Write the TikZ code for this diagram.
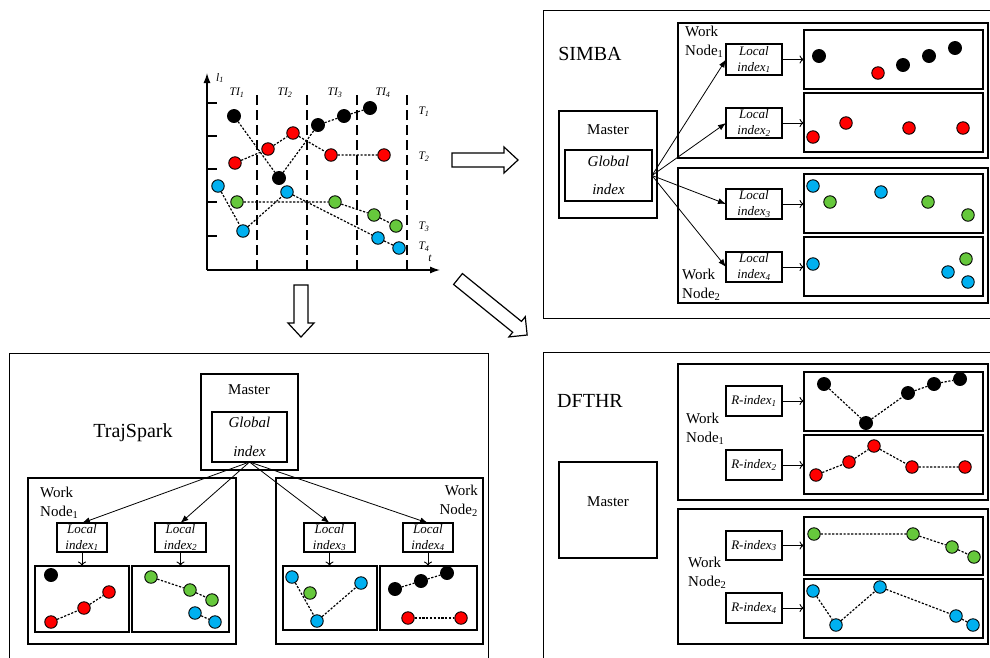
\documentclass[tikz,border=0pt]{standalone}
\usepackage{fontspec}
\setmainfont{Liberation Serif}
\usetikzlibrary{arrows.meta}

\definecolor{ptred}{RGB}{255,0,0}
\definecolor{ptgreen}{RGB}{102,200,60}
\definecolor{ptblue}{RGB}{0,176,240}

\pgfdeclarelayer{paper}
\pgfdeclarelayer{bg}
\pgfsetlayers{paper,bg,main}

\tikzset{
  spanbox/.style n args={4}{minimum width={(#3)-(#1)}, minimum height={(#4)-(#2)},
    at={({((#1)+(#3))/2},{((#2)+(#4))/2})}, inner sep=0, outer sep=0},
  panel/.style={draw, line width=1pt},
  hostbox/.style={draw, line width=1.4pt},
  idxbox/.style={draw, line width=1.4pt, align=center,
    font=\fontsize{13}{16}\selectfont\itshape},
  gidxbox/.style={draw, line width=1.4pt, align=center,
    font=\fontsize{15}{18}\selectfont\itshape},
  databox/.style={draw, line width=1.6pt},
  paneltitle/.style={font=\fontsize{20}{24}\selectfont, inner sep=0},
  hostlabel/.style={font=\fontsize{15}{18}\selectfont, inner sep=0},
  worklabel/.style={font=\fontsize{15}{19}\selectfont, inner sep=0},
  chartlabel/.style={font=\fontsize{11.5}{13}\selectfont\itshape, inner sep=0},
  dotnode/.style={circle, draw, line width=0.9pt, minimum size=12.5pt, inner sep=0},
  ptK/.style={dotnode, fill=black, minimum size=13pt},
  ptR/.style={dotnode, fill=ptred},
  ptG/.style={dotnode, fill=ptgreen},
  ptB/.style={dotnode, fill=ptblue},
  traj/.style={dash pattern=on 2.2pt off 1.6pt, line width=1.2pt},
  feed/.style={-{Latex[length=8pt,width=6pt]}, line width=0.8pt},
  probe/.style={-{To[length=4.5pt,width=8pt]}, line width=0.9pt},
  axis/.style={-{Latex[length=10pt,width=7pt]}, line width=1.3pt},
  slot/.style={dash pattern=on 10pt off 5pt, line width=1.3pt},
  blockarrow/.style={draw, line width=1.2pt, fill=white, line join=miter},
}

\begin{document}
\begin{tikzpicture}[x=1pt, y=-1pt]
\useasboundingbox (0,0) rectangle (990,657);
\begin{pgfonlayer}{paper}
\fill[white] (0,0) rectangle (990,657);
\end{pgfonlayer}
\clip (0,0) rectangle (990,657);

% ---------------- trajectory chart ----------------
\coordinate (origin) at (207,270);
\coordinate (ytop) at (207,73);
\coordinate (xend) at (440,270);
\foreach \x in {257,307,357,407} \draw[slot] (\x,270) -- (\x,91);
\foreach \y in {103,136,169,202,236} \draw[line width=1.2pt] (207,\y) -- (217,\y);
\draw[axis] (origin) -- (ytop);
\draw[axis] (origin) -- (xend);
\node[chartlabel] (lax) at (220,78) {l\textsubscript{1}};
\node[chartlabel] (tax) at (430,258) {t};
\node[chartlabel] (ti1) at (237,93) {TI\textsubscript{1}};
\node[chartlabel] (ti2) at (285,93) {TI\textsubscript{2}};
\node[chartlabel] (ti3) at (335,93) {TI\textsubscript{3}};
\node[chartlabel] (ti4) at (383,93) {TI\textsubscript{4}};
\node[chartlabel] (lt1) at (424,112) {T\textsubscript{1}};
\node[chartlabel] (lt2) at (424,157) {T\textsubscript{2}};
\node[chartlabel] (lt3) at (424,227) {T\textsubscript{3}};
\node[chartlabel] (lt4) at (424,247) {T\textsubscript{4}};

\node[ptK] (ck1) at (234,116) {};
\node[ptK] (ck2) at (279,178) {};
\node[ptK] (ck3) at (318,125) {};
\node[ptK] (ck4) at (344,116) {};
\node[ptK] (ck5) at (370,108) {};
\node[ptR] (cr1) at (235,163) {};
\node[ptR] (cr2) at (268,149) {};
\node[ptR] (cr3) at (293,133) {};
\node[ptR] (cr4) at (331,155) {};
\node[ptR] (cr5) at (384,155) {};
\node[ptG] (cg1) at (237,202) {};
\node[ptG] (cg2) at (335,202) {};
\node[ptG] (cg3) at (374,215) {};
\node[ptG] (cg4) at (396,226) {};
\node[ptB] (cb1) at (218,186) {};
\node[ptB] (cb2) at (243,231) {};
\node[ptB] (cb3) at (287,192) {};
\node[ptB] (cb4) at (378,238) {};
\node[ptB] (cb5) at (399,248) {};
\begin{pgfonlayer}{bg}
\draw[traj] (ck1) -- (ck2) -- (ck3) -- (ck4) -- (ck5);
\draw[traj] (cr1) -- (cr2) -- (cr3) -- (cr4) -- (cr5);
\draw[traj] (cg1) -- (cg2) -- (cg3) -- (cg4);
\draw[traj] (cb1) -- (cb2) -- (cb3) -- (cb4) -- (cb5);
\end{pgfonlayer}

% ---------------- block arrows ----------------
\draw[blockarrow] (452,153) -- (504,153) -- (504,147) -- (518,160) -- (504,173)
  -- (504,167) -- (452,167) -- cycle;
\draw[blockarrow] (294,285) -- (308,285) -- (308,323) -- (314,323) -- (301,337)
  -- (288,323) -- (294,323) -- cycle;
\begin{scope}[shift={(458,279)}, rotate=-39]
\draw[blockarrow] (0,-7) -- (76,-7) -- (76,-13) -- (89,0) -- (76,13) -- (76,7)
  -- (0,7) -- cycle;
\end{scope}

% ---------------- SIMBA ----------------
\draw[panel] (543,318) rectangle (1000,10);
\node[paneltitle] (simbatitle) at (590,54) {SIMBA};
\node[hostbox, spanbox={559}{111}{657}{218}] (smaster) {};
\node[hostlabel] (smasterlabel) at (608,130) {Master};
\node[gidxbox, spanbox={565}{150}{652}{201}] (sglobal) {Global\\[10pt]index};
\node[hostbox, spanbox={678}{23}{988}{158}] (swn1) {};
\node[hostbox, spanbox={678}{168}{988}{303}] (swn2) {};
\node[worklabel, align=left, anchor=west] (swn1label) at (685,41.5) {Work\\Node\textsubscript{1}};
\node[worklabel, align=left, anchor=west] (swn2label) at (682,284.5) {Work\\Node\textsubscript{2}};
\node[idxbox, spanbox={726}{44}{782}{75}] (sli1) {Local\\index\textsubscript{1}};
\node[idxbox, spanbox={726}{108}{782}{138}] (sli2) {Local\\index\textsubscript{2}};
\node[idxbox, spanbox={726}{189}{782}{219}] (sli3) {Local\\index\textsubscript{3}};
\node[idxbox, spanbox={726}{252}{782}{282}] (sli4) {Local\\index\textsubscript{4}};
\node[databox, spanbox={804}{30}{983}{89}] (sd1) {};
\node[databox, spanbox={804}{93}{983}{152}] (sd2) {};
\node[databox, spanbox={804}{174}{983}{233}] (sd3) {};
\node[databox, spanbox={804}{237}{983}{296}] (sd4) {};
\foreach \i in {1,2,3,4} {
  \draw[feed] (sglobal.east) -- (sli\i.west);
  \draw[probe] (sli\i.east) -- (sli\i.east -| sd\i.west);
}
\node[ptK] (s1a) at (819,56) {};
\node[ptR] (s1b) at (878,73) {};
\node[ptK] (s1c) at (903,65) {};
\node[ptK] (s1d) at (929,56) {};
\node[ptK] (s1e) at (955,48) {};
\node[ptR] (s2a) at (813,137) {};
\node[ptR] (s2b) at (846,123) {};
\node[ptR] (s2c) at (909,128) {};
\node[ptR] (s2d) at (963,128) {};
\node[ptB] (s3a) at (813,186) {};
\node[ptG] (s3b) at (830,202) {};
\node[ptB] (s3c) at (881,192) {};
\node[ptG] (s3d) at (928,202) {};
\node[ptG] (s3e) at (968,215) {};
\node[ptB] (s4a) at (813,264) {};
\node[ptG] (s4b) at (966,259) {};
\node[ptB] (s4c) at (948,272) {};
\node[ptB] (s4d) at (968,282) {};

% ---------------- DFTHR ----------------
\draw[panel] (543,670) -- (543,352) -- (1000,352);
\node[paneltitle] (dfthrtitle) at (590,401) {DFTHR};
\node[hostbox, spanbox={559}{462}{657}{558}] (dmaster) {};
\node[hostlabel] (dmasterlabel) at (608,502) {Master};
\node[hostbox, spanbox={678}{364}{988}{500}] (dwn1) {};
\node[hostbox, spanbox={678}{509}{988}{644}] (dwn2) {};
\node[worklabel, align=left, anchor=west] (dwn1label) at (686,428.5) {Work\\Node\textsubscript{1}};
\node[worklabel, align=left, anchor=west] (dwn2label) at (688,572.5) {Work\\Node\textsubscript{2}};
\node[idxbox, spanbox={726}{386}{782}{416}] (dr1) {R-index\textsubscript{1}};
\node[idxbox, spanbox={726}{450}{782}{480}] (dr2) {R-index\textsubscript{2}};
\node[idxbox, spanbox={726}{531}{782}{560}] (dr3) {R-index\textsubscript{3}};
\node[idxbox, spanbox={726}{593}{782}{623}] (dr4) {R-index\textsubscript{4}};
\node[databox, spanbox={804}{372}{983}{431}] (dd1) {};
\node[databox, spanbox={804}{435}{983}{494}] (dd2) {};
\node[databox, spanbox={804}{517}{983}{575}] (dd3) {};
\node[databox, spanbox={804}{579}{983}{638}] (dd4) {};
\foreach \i in {1,2,3,4}
  \draw[probe] (dr\i.east) -- (dr\i.east -| dd\i.west);
\node[ptK] (d1a) at (824,384) {};
\node[ptK] (d1b) at (866,423) {};
\node[ptK] (d1c) at (908,393) {};
\node[ptK] (d1d) at (934,384) {};
\node[ptK] (d1e) at (960,379) {};
\node[ptR] (d2a) at (816,475) {};
\node[ptR] (d2b) at (849,462) {};
\node[ptR] (d2c) at (874,446) {};
\node[ptR] (d2d) at (912,467) {};
\node[ptR] (d2e) at (965,467) {};
\node[ptG] (d3a) at (814,534) {};
\node[ptG] (d3b) at (913,534) {};
\node[ptG] (d3c) at (952,547) {};
\node[ptG] (d3d) at (974,557) {};
\node[ptB] (d4a) at (813,591) {};
\node[ptB] (d4b) at (836,625) {};
\node[ptB] (d4c) at (880,587) {};
\node[ptB] (d4d) at (956,616) {};
\node[ptB] (d4e) at (973,625) {};
\begin{pgfonlayer}{bg}
\draw[traj] (d1a) -- (d1b) -- (d1c) -- (d1d) -- (d1e);
\draw[traj] (d2a) -- (d2b) -- (d2c) -- (d2d) -- (d2e);
\draw[traj] (d3a) -- (d3b) -- (d3c) -- (d3d);
\draw[traj] (d4a) -- (d4b) -- (d4c) -- (d4d) -- (d4e);
\end{pgfonlayer}

% ---------------- TrajSpark ----------------
\draw[panel] (9,670) -- (9,353) -- (488,353) -- (488,670);
\node[paneltitle] (trajtitle) at (133,433) {TrajSpark};
\node[hostbox, spanbox={201}{374}{298}{470}] (tmaster) {};
\node[hostlabel] (tmasterlabel) at (249,390) {Master};
\node[gidxbox, spanbox={212}{412}{287}{462}] (tglobal) {Global\\[11pt]index};
\node[hostbox, spanbox={28}{478}{236}{644}] (twn1) {};
\node[hostbox, spanbox={276}{478}{483}{644}] (twn2) {};
\node[worklabel, align=left, anchor=west] (twn1label) at (40,502.5) {Work\\Node\textsubscript{1}};
\node[worklabel, align=right, anchor=east] (twn2label) at (478,500.5) {Work\\Node\textsubscript{2}};
\node[idxbox, spanbox={57}{523}{107}{552}] (tli1) {Local\\index\textsubscript{1}};
\node[idxbox, spanbox={155}{523}{206}{552}] (tli2) {Local\\index\textsubscript{2}};
\node[idxbox, spanbox={304}{523}{355}{552}] (tli3) {Local\\index\textsubscript{3}};
\node[idxbox, spanbox={403}{523}{453}{552}] (tli4) {Local\\index\textsubscript{4}};
\node[databox, spanbox={35}{566}{129}{632}] (td1) {};
\node[databox, spanbox={132}{566}{229}{632}] (td2) {};
\node[databox, spanbox={283}{566}{377}{630}] (td3) {};
\node[databox, spanbox={380}{566}{477}{630}] (td4) {};
\foreach \i in {1,2,3,4} {
  \draw[feed] (tglobal.south) -- (tli\i.north);
  \draw[probe] (tli\i.south) -- (tli\i.south |- td\i.north);
}
\node[ptK] (t1a) at (51,575) {};
\node[ptR] (t1b) at (51,622) {};
\node[ptR] (t1c) at (84,608) {};
\node[ptR] (t1d) at (109,592) {};
\node[ptG] (t2a) at (151,577) {};
\node[ptG] (t2b) at (190,590) {};
\node[ptG] (t2c) at (212,600) {};
\node[ptB] (t2d) at (195,613) {};
\node[ptB] (t2e) at (215,622) {};
\node[ptB] (t3a) at (292,577) {};
\node[ptB] (t3b) at (317,621) {};
\node[ptB] (t3c) at (361,583) {};
\node[ptG] (t3d) at (310,593) {};
\node[ptK] (t4a) at (395,589) {};
\node[ptK] (t4b) at (421,581) {};
\node[ptK] (t4c) at (447,573) {};
\node[ptR] (t4d) at (408,618) {};
\node[ptR] (t4e) at (461,618) {};
\begin{pgfonlayer}{bg}
\draw[traj] (t1b) -- (t1c) -- (t1d);
\draw[traj] (t2a) -- (t2b) -- (t2c);
\draw[traj] (t2d) -- (t2e);
\draw[traj] (t3a) -- (t3b) -- (t3c);
\draw[traj] (t4a) -- (t4b) -- (t4c);
\draw[traj] (t4d) -- (t4e);
\end{pgfonlayer}
\end{tikzpicture}
\end{document}
